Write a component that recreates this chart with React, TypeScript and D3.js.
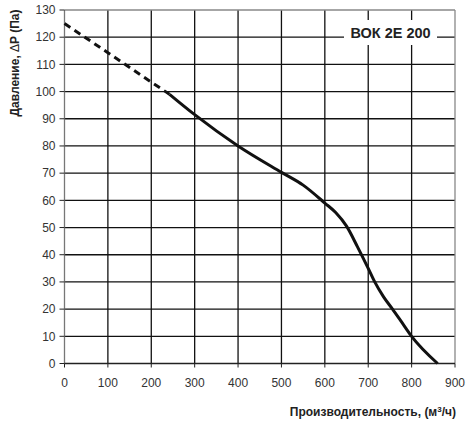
import * as React from "react";
import { scaleLinear, line, curveMonotoneX, range } from "d3";

const xTicks = range(0, 901, 100);
const yTicks = range(0, 131, 10);

// flow (m3/h) vs pressure (Pa)
const dashedFlow = [0, 100, 200, 242];
const dashedPressure = [125, 114.3, 103.5, 99];
const solidFlow = [242, 300, 400, 500, 550, 600, 625, 650, 675, 700, 715, 735, 756, 778, 800, 860];
const solidPressure = [99, 91.5, 80, 70.3, 65.6, 59, 55.5, 50.5, 43, 35, 30, 24.6, 20, 15, 10, 0];

const title = "ВОК 2Е 200";

const W = 470;
const H = 425;
const m = { left: 64.5, right: 15, top: 10, bottom: 61.5 };
const font = "Arial, 'Liberation Sans', sans-serif";

export default function App() {
  const x = scaleLinear().domain([0, 900]).range([m.left, W - m.right]);
  const y = scaleLinear().domain([0, 130]).range([H - m.bottom, m.top]);

  const dashed = line<[number, number]>()
    .x((d) => x(d[0]))
    .y((d) => y(d[1]))(dashedFlow.map((f, i) => [f, dashedPressure[i]]));
  const solid = line<[number, number]>()
    .x((d) => x(d[0]))
    .y((d) => y(d[1]))
    .curve(curveMonotoneX)(solidFlow.map((f, i) => [f, solidPressure[i]]));

  const x0 = x(0);
  const x1 = x(900);
  const y0 = y(0);
  const y1 = y(130);

  return (
    <svg
      width={W}
      height={H}
      style={{ position: "absolute", left: 0, top: 0, background: "#fff" }}
      fontFamily={font}
    >
      {/* grid */}
      <g stroke="#111" strokeWidth={1.3}>
        {xTicks.slice(1, -1).map((t) => (
          <line key={"gx" + t} x1={x(t)} x2={x(t)} y1={y1} y2={y0} />
        ))}
        {yTicks.slice(1, -1).map((t) => (
          <line key={"gy" + t} x1={x0} x2={x1} y1={y(t)} y2={y(t)} />
        ))}
      </g>
      {/* frame */}
      <line x1={x0} x2={x1} y1={y1} y2={y1} stroke="#888" strokeWidth={1.3} />
      <line x1={x1} x2={x1} y1={y1} y2={y0} stroke="#888" strokeWidth={1.3} />
      <line x1={x0} x2={x0} y1={y1} y2={y0} stroke="#777" strokeWidth={1.3} />
      <line x1={x0} x2={x1} y1={y0} y2={y0} stroke="#222" strokeWidth={1.3} />
      {/* ticks */}
      <g stroke="#222" strokeWidth={1}>
        {yTicks.map((t) => (
          <line key={"ty" + t} x1={x0 - 5} x2={x0} y1={y(t)} y2={y(t)} />
        ))}
        {xTicks.map((t) => (
          <line key={"tx" + t} x1={x(t)} x2={x(t)} y1={y0} y2={y0 + 4} />
        ))}
      </g>
      <g fontSize={12} fill="#333">
        {yTicks.map((t) => (
          <text key={"ly" + t} x={x0 - 9} y={y(t)} dy="0.35em" textAnchor="end">
            {t}
          </text>
        ))}
        {xTicks.map((t) => (
          <text key={"lx" + t} x={x(t)} y={y0 + 23} textAnchor="middle">
            {t}
          </text>
        ))}
      </g>
      {/* title box */}
      <rect x={344} y={20} width={93} height={25} fill="#fff" />
      <text x={390.5} y={38.3} textAnchor="middle" fontSize={14.5} fontWeight="bold" fill="#222">
        {title}
      </text>
      {/* curve */}
      <path d={dashed ?? ""} fill="none" stroke="#111" strokeWidth={3} strokeDasharray="7,5" />
      <path d={solid ?? ""} fill="none" stroke="#111" strokeWidth={3} />
      {/* axis titles */}
      <text
        transform={`translate(19,63) rotate(-90)`}
        textAnchor="middle"
        fontSize={12}
        fontWeight="bold"
        fill="#222"
      >
        Давление, <tspan fontWeight="normal">Δ</tspan>P (Па)
      </text>
      <text x={456} y={416} textAnchor="end" fontSize={12} fontWeight="bold" fill="#222">
        Производительность, (м
        <tspan dy={-4} fontSize={8}>3</tspan>
        <tspan dy={4}>/ч)</tspan>
      </text>
    </svg>
  );
}
